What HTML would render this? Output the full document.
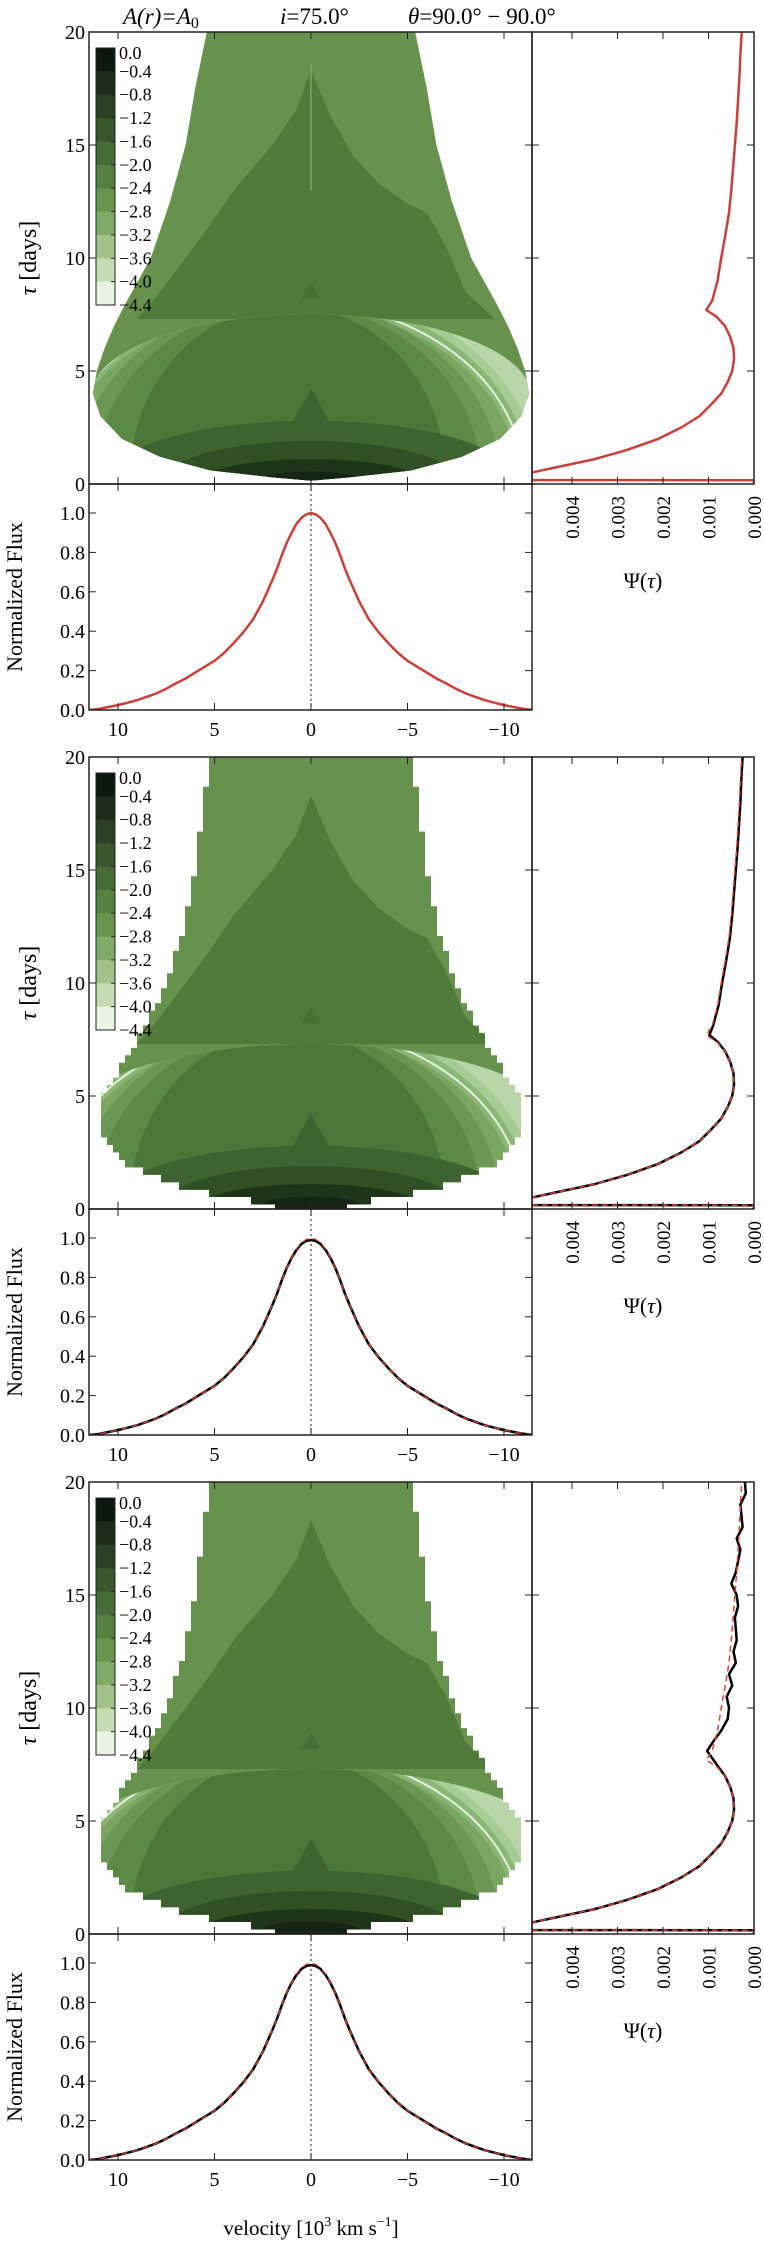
<!DOCTYPE html>
<html><head><meta charset="utf-8">
<style>
html,body{margin:0;padding:0;background:#fff;}
svg{display:block;font-family:"Liberation Serif","DejaVu Serif",serif;}
</style></head>
<body>
<svg id="fig" width="764" height="2250" viewBox="0 0 764 2250" xmlns="http://www.w3.org/2000/svg">
<text x="123" y="24" font-size="23" font-style="italic">A(r)=A<tspan font-size="16" dy="4" font-style="normal">0</tspan></text>
<text x="280" y="24" font-size="23"><tspan font-style="italic">i</tspan>=75.0°</text>
<text x="408" y="24" font-size="23"><tspan font-style="italic">θ</tspan>=90.0° − 90.0°</text>
<text x="311" y="2235" font-size="21" text-anchor="middle">velocity [10<tspan font-size="14" dy="-9">3</tspan><tspan dy="9">  km s</tspan><tspan font-size="14" dy="-9">−1</tspan><tspan dy="9">]</tspan></text>
</svg>
<script>
// ---------- data ----------
const velTicks = [10, 5, 0, -5, -10];
const velTickLabels = ["10", "5", "0", "\u22125", "\u221210"];
const tauTicks = [0, 5, 10, 15, 20];
const fluxTicks = [0, 0.2, 0.4, 0.6, 0.8, 1.0];
const fluxTickLabels = ["0.0", "0.2", "0.4", "0.6", "0.8", "1.0"];
const psiTicks = [0.004, 0.003, 0.002, 0.001, 0.0];
const psiTickLabels = ["0.004", "0.003", "0.002", "0.001", "0.000"];
const cbarLabels = ["0.0","\u22120.4","\u22120.8","\u22121.2","\u22121.6","\u22122.0","\u22122.4","\u22122.8","\u22123.2","\u22123.6","\u22124.0","\u22124.4"];
const cbarColors = ['#0d180d','#1b2d18','#2a4223','#38572d','#466b36','#567f42','#68944f','#80aa68','#9fc38a','#c3dcb4','#e9f4e3'];

const fluxVel = [11.5,11,10.5,10,9.5,9,8.5,8,7.5,7,6.5,6,5.5,5,4.5,4,3.5,3,2.5,2,1.75,1.5,1.25,1,0.75,0.5,0.25,0,
 -0.25,-0.5,-0.75,-1,-1.25,-1.5,-1.75,-2,-2.5,-3,-3.5,-4,-4.5,-5,-5.5,-6,-6.5,-7,-7.5,-8,-8.5,-9,-9.5,-10,-10.5,-11,-11.5];
const fluxModel = [0,0.005,0.015,0.025,0.037,0.05,0.067,0.085,0.108,0.135,0.16,0.19,0.22,0.25,0.29,0.34,0.395,0.46,0.55,0.66,0.72,0.79,0.85,0.9,0.945,0.975,0.993,1.0,
 0.993,0.975,0.945,0.9,0.85,0.79,0.72,0.66,0.55,0.46,0.395,0.34,0.29,0.25,0.22,0.19,0.16,0.135,0.108,0.085,0.067,0.05,0.037,0.025,0.015,0.006,0.0];
const fluxRecon = [0,0.005,0.015,0.025,0.037,0.05,0.067,0.085,0.108,0.135,0.16,0.19,0.22,0.25,0.29,0.34,0.395,0.46,0.55,0.66,0.72,0.79,0.85,0.9,0.94,0.97,0.985,0.99,
 0.985,0.97,0.94,0.9,0.85,0.79,0.72,0.66,0.55,0.46,0.395,0.34,0.29,0.25,0.22,0.19,0.16,0.135,0.108,0.085,0.067,0.05,0.037,0.025,0.015,0.006,0.0];

const psiTau = [0,0.17,0.18,0.5,0.8,1.1,1.5,2.0,2.5,3.0,3.5,4.0,4.5,5.0,5.5,6.0,6.5,7.0,7.4,7.7,8.1,9,10,11,12,13,14,15,16,17,18,19,20];
const psiModel = [0.0,0.0,0.03,0.0049,0.0042,0.0035,0.0028,0.0021,0.0016,0.0012,0.00095,0.00072,0.00058,0.00048,0.00044,0.00045,0.00052,0.00064,0.00082,0.00105,0.00092,0.0008,0.00072,0.00063,0.00055,0.0005,0.00046,0.00042,0.00038,0.00035,0.00032,0.0003,0.00027];
const psiRecon2 = [0.0,0.0,0.03,0.0049,0.0042,0.0035,0.0028,0.0021,0.0016,0.0012,0.00095,0.00072,0.00058,0.00048,0.00044,0.00045,0.00052,0.00064,0.0008,0.00098,0.0009,0.00078,0.0007,0.00061,0.00053,0.00048,0.00044,0.0004,0.00036,0.00033,0.0003,0.00028,0.00025];
const psiTau3 = [0,0.17,0.18,0.5,0.8,1.1,1.5,2.0,2.5,3.0,3.5,4.0,4.5,5.0,5.5,6.0,6.5,7.0,7.5,8.1,8.5,9,9.5,10,10.5,11,11.5,12,12.5,13,14,14.5,15,15.5,16,17,17.5,18,19,19.5,20];
const psiRecon3 = [0.0,0.0,0.03,0.0049,0.0042,0.0035,0.0028,0.0021,0.0016,0.0012,0.00095,0.00072,0.00058,0.00048,0.00044,0.00045,0.00052,0.00064,0.00082,0.00103,0.0009,0.00072,0.00058,0.00055,0.0006,0.00048,0.00055,0.0004,0.00045,0.00038,0.00042,0.00035,0.00038,0.0005,0.0004,0.0003,0.00038,0.00025,0.0003,0.00018,0.0002];

const outlineTau1 = [20,17.5,15,12.5,10,8,7,6,5,4,3,2,1.2,0.6,0.3];
const outlineHalf1 = [5.4,6,6.5,7.3,8.3,9.6,10.2,10.7,11.1,11.3,10.9,9.8,7.8,5.2,2];
const outlineTau2 = [20,17.5,15,12.5,10,7.5,6,5,4,3,2,1.2,0.6,0.2];
const outlineHalf2 = [5.3,5.6,6,6.6,7.4,9,10,10.8,11,10.7,9.5,7.5,5,2];
const innerV = [0,0.8,2,3,4,5.2,6.5,8,9,-9.5,-8,-7,-6,-5,-3.5,-2.2,-1,0];
const innerTau = [18.3,16.5,15,14,13,11.5,10,8.3,7.3,7.3,8.5,10.5,12,12.4,13.3,14.5,16.3,18.3];
const lightBandHalfV = [13,12.5,11.9,11,10,8.2];
const lightBandTau = [8.5,8.2,7.7,7.9,7.8,7.7];
const lightColors = ['#a7cb95','#8cb676','#7aa662','#6a9854','#5b8a47','#4c7538'];
const darkBandHalfV = [10.5,7.5,5.5,2.5];
const darkBandTau = [2.6,1.7,0.9,0.35];
const darkColors = ['#3e6330','#2f4f25','#1f3519','#142514'];

// ---------- layout ----------
const NS = 'http://www.w3.org/2000/svg';
const svg = document.getElementById('fig');
const L = 89, R = 532, PR = 754;
function xV(v){ return 311 - v*19.3; }
function el(tag, attrs, parent){ const e = document.createElementNS(NS, tag); for (const k in attrs) e.setAttribute(k, attrs[k]); (parent||svg).appendChild(e); return e; }
function interp(xs, ys, x){ for (let i=0;i<xs.length-1;i++){ const a=xs[i], b=xs[i+1]; if ((x<=a && x>=b)||(x>=a && x<=b)){ const t=(x-a)/(b-a||1); return ys[i]+t*(ys[i+1]-ys[i]); } } return ys[ys.length-1]; }

function panel(p){
  const T = 32 + 725*p;
  const B = T + 452;
  const FB = T + 678;
  const yT = t => B - t*22.6;
  const yF = f => FB - f*197;
  const xP = s => PR - s*45500;
  const g = el('g', {});
  
  

  const defs = el('defs', {}, g);
  const cm = el('clipPath', {id:'cm'+p}, defs); el('rect',{x:L,y:T,width:R-L,height:452},cm);
  const cp = el('clipPath', {id:'cp'+p}, defs); el('rect',{x:R,y:T,width:PR-R,height:452},cp);
  const cf = el('clipPath', {id:'cf'+p}, defs); el('rect',{x:L,y:B,width:R-L,height:226},cf);

  // ----- map -----
  const map = el('g', {'clip-path':'url(#cm'+p+')'}, g);
  
  
  const oTau = p===0 ? outlineTau1 : outlineTau2;
  const oHalf = p===0 ? outlineHalf1 : outlineHalf2;
  let pts = [];
  if (p===0){
    for (let i=0;i<oTau.length;i++) pts.push([xV(oHalf[i]), yT(oTau[i])]);
    pts.push([xV(0), yT(0.15)]);
    for (let i=oTau.length-1;i>=0;i--) pts.push([xV(-oHalf[i]), yT(oTau[i])]);
  } else {
    const step = 0.33;
    let left=[], right=[];
    for (let t=20; t>=0.2; t-=step){
      const h = interp(oTau, oHalf, Math.max(t-step/2, 0.2));
      const hq = Math.round(h*19.3/6)*6/19.3;
      left.push([xV(hq), yT(t)], [xV(hq), yT(t-step)]);
      right.push([xV(-hq), yT(t)], [xV(-hq), yT(t-step)]);
    }
    pts = left.concat(right.reverse());
  }
  const ptsStr = pts.map(q=>q[0].toFixed(1)+','+q[1].toFixed(1)).join(' ');
  const co = el('clipPath', {id:'co'+p}, defs); el('polygon',{points:ptsStr},co);
  const shape = el('g', {'clip-path':'url(#co'+p+')'}, map);
  el('rect',{x:L,y:T,width:R-L,height:452,fill:'#66924e'},shape);
  const strip = el('polygon',{points:[[xV(6.8),yT(20)],[xV(7.8),yT(13)],[xV(9.2),yT(9)],[xV(12),yT(9)],[xV(12),yT(20)]].map(q=>q.join(',')).join(' '),fill:'#74a35c'},shape);
  
  
  const inner = el('polygon',{points:innerV.map((v,i)=>xV(v)+','+yT(innerTau[i])).join(' '),fill:'#4f7a3a'},shape);
  
  
  if (p===0){ el('line',{x1:xV(0),y1:yT(18.6),x2:xV(0),y2:yT(13),stroke:'#7aa662','stroke-width':1.5},shape); }
  el('polygon',{points:[[xV(0.5),yT(8.2)],[xV(0),yT(8.9)],[xV(-0.5),yT(8.2)]].map(q=>q.join(',')).join(' '),fill:'#466e35'},shape);

  // lower region (elliptical cap)
  const lowClip = el('clipPath',{id:'cl'+p},defs);
  const ecy = p===0 ? 3.9 : 3.5, ery = p===0 ? 3.6 : 3.8, erx = p===0 ? 11.4 : 13;
  el('ellipse',{cx:xV(0),cy:yT(ecy),rx:erx*19.3,ry:ery*22.6},lowClip);
  el('rect',{x:L,y:yT(ecy),width:R-L,height:B-yT(ecy)},lowClip);
  const low = el('g',{'clip-path':'url(#cl'+p+')'},shape);
  
  
  const cx = xV(1.2), cy = yT(0.2);
  el('rect',{x:L,y:T,width:R-L,height:452,fill:'#b9d6a8'},low);
  for (let k=0;k<lightBandHalfV.length;k++){
    el('ellipse',{cx:cx,cy:cy,rx:lightBandHalfV[k]*19.3,ry:lightBandTau[k]*22.6,fill:lightColors[k]},low);
  }
  el('ellipse',{cx:cx,cy:cy,rx:12.2*19.3,ry:7.9*22.6,fill:'none',stroke:'#e4f0dc','stroke-width':2},low);
  for (let k=0;k<darkBandHalfV.length;k++){
    el('ellipse',{cx:xV(0),cy:cy,rx:darkBandHalfV[k]*19.3,ry:darkBandTau[k]*22.6,fill:darkColors[k]},low);
  }
  el('polygon',{points:[[xV(1.2),yT(2.4)],[xV(0),yT(4.2)],[xV(-1.2),yT(2.4)]].map(q=>q.join(',')).join(' '),fill:'#3e6330'},low);

  // colorbar
  const cb = el('g',{},g);
  
  
  const cbT = T+16, cbH = 257, cbX = 96, cbW = 19;
  const bh = cbH/cbarColors.length;
  cbarColors.forEach((c,i)=>{ el('rect',{x:cbX,y:cbT+i*bh,width:cbW,height:bh+0.5,fill:c},cb); });
  el('rect',{x:cbX,y:cbT,width:cbW,height:cbH,fill:'none',stroke:'#222','stroke-width':1},cb);
  cbarLabels.forEach((s,i)=>{
    const yy = cbT + i*cbH/(cbarLabels.length-1);
    const t = el('text',{x:cbX+cbW+4,y:yy+(i===0?11:6),'font-size':18},cb); t.textContent=s;
    
    
    if (i>0 && i<cbarLabels.length-1) el('line',{x1:cbX+cbW-4,y1:yy,x2:cbX+cbW,y2:yy,stroke:'#222'},cb);
  });

  el('rect',{x:L,y:T,width:R-L,height:452,fill:'none',stroke:'#222','stroke-width':1.5},g);
  velTicks.forEach(v=>{ el('line',{x1:xV(v),y1:T,x2:xV(v),y2:T+7,stroke:'#222'},g); el('line',{x1:xV(v),y1:B,x2:xV(v),y2:B-7,stroke:'#222'},g); });
  tauTicks.forEach(t=>{
    el('line',{x1:L,y1:yT(t),x2:L+7,y2:yT(t),stroke:'#222'},g);
    el('line',{x1:R,y1:yT(t),x2:R-7,y2:yT(t),stroke:'#222'},g);
    el('line',{x1:R,y1:yT(t),x2:R+7,y2:yT(t),stroke:'#222'},g);
    el('line',{x1:PR,y1:yT(t),x2:PR-7,y2:yT(t),stroke:'#222'},g);
    const lb = el('text',{x:L-4,y:yT(t)+7,'font-size':20,'text-anchor':'end'},g); lb.textContent = String(t);
    
    
  });
  const yl = el('text',{x:36,y:T+226,'font-size':24,'text-anchor':'middle',transform:'rotate(-90 36 '+(T+226)+')'},g);
  yl.innerHTML = '<tspan font-style="italic">τ</tspan> [days]';
  
  

  // ----- psi panel -----
  const pg = el('g',{'clip-path':'url(#cp'+p+')'},g);
  
  
  const psiLine = (tau, vals, attrs) => {
    const d = tau.map((t,i)=>(i?'L':'M')+xP(vals[i]).toFixed(1)+','+yT(t).toFixed(1)).join(' ');
    return el('path',Object.assign({d:d,fill:'none','stroke-linejoin':'round'},attrs),pg);
  };
  if (p===0){
    const l = psiLine(psiTau, psiModel, {stroke:'#c8403a','stroke-width':2.5});
    
    
  } else {
    const bl = p===1 ? psiLine(psiTau, psiRecon2, {stroke:'#000','stroke-width':2.5}) : psiLine(psiTau3, psiRecon3, {stroke:'#000','stroke-width':2.5});
    
    
    const rl = psiLine(psiTau, psiModel, {stroke:'#d9443d','stroke-width':1.5,'stroke-dasharray':'6 4'});
    
    
  }
  el('rect',{x:R,y:T,width:PR-R,height:452,fill:'none',stroke:'#222','stroke-width':1.5},g);
  psiTicks.forEach((s,i)=>{
    el('line',{x1:xP(s),y1:T,x2:xP(s),y2:T+7,stroke:'#222'},g);
    el('line',{x1:xP(s),y1:B,x2:xP(s),y2:B-7,stroke:'#222'},g);
    const tx = xP(s)+7, ty = B+12;
    const lb = el('text',{x:tx,y:ty,'font-size':19,'text-anchor':'end',transform:'rotate(-90 '+tx+' '+ty+')'},g);
    lb.textContent = psiTickLabels[i];
    
    
  });
  const pl = el('text',{x:643,y:B+104,'font-size':22,'text-anchor':'middle'},g);
  pl.innerHTML = 'Ψ(<tspan font-style="italic">τ</tspan>)';
  
  

  // ----- flux panel -----
  const fg = el('g',{'clip-path':'url(#cf'+p+')'},g);
  
  
  el('line',{x1:xV(0),y1:B,x2:xV(0),y2:FB,stroke:'#444','stroke-width':1.2,'stroke-dasharray':'2 3'},fg);
  const fline = (vals, attrs) => el('path',Object.assign({d:fluxVel.map((v,i)=>(i?'L':'M')+xV(v).toFixed(1)+','+yF(vals[i]).toFixed(1)).join(' '),fill:'none','stroke-linejoin':'round'},attrs),fg);
  if (p===0){
    const l = fline(fluxModel,{stroke:'#c8403a','stroke-width':2.5});
    
    
  } else {
    const bl = fline(fluxRecon,{stroke:'#000','stroke-width':2.5});
    
    
    const rl = fline(fluxModel,{stroke:'#d9443d','stroke-width':1.3,'stroke-dasharray':'6 5'});
    
    
  }
  el('rect',{x:L,y:B,width:R-L,height:226,fill:'none',stroke:'#222','stroke-width':1.5},g);
  fluxTicks.forEach((f,i)=>{
    el('line',{x1:L,y1:yF(f),x2:L+7,y2:yF(f),stroke:'#222'},g);
    el('line',{x1:R,y1:yF(f),x2:R-7,y2:yF(f),stroke:'#222'},g);
    const lb = el('text',{x:L-4,y:yF(f)+7,'font-size':20,'text-anchor':'end'},g); lb.textContent = fluxTickLabels[i];
    
    
  });
  velTicks.forEach((v,i)=>{
    el('line',{x1:xV(v),y1:FB,x2:xV(v),y2:FB-7,stroke:'#222'},g);
    el('line',{x1:xV(v),y1:B,x2:xV(v),y2:B+7,stroke:'#222'},g);
    const lb = el('text',{x:xV(v),y:FB+26,'font-size':20,'text-anchor':'middle'},g); lb.textContent = velTickLabels[i];
    
    
  });
  const fl = el('text',{x:22,y:B+113,'font-size':22,'text-anchor':'middle',transform:'rotate(-90 22 '+(B+113)+')'},g);
  fl.textContent = 'Normalized Flux';
  
  
}
[0,1,2].forEach(panel);
</script>
</body></html>
